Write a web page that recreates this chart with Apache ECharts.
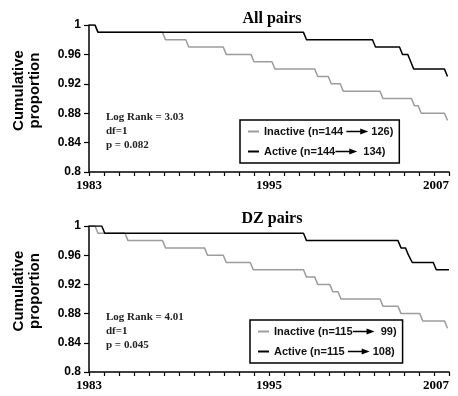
<!DOCTYPE html>
<html>
<head>
<meta charset="utf-8">
<script src="https://cdn.jsdelivr.net/npm/echarts@6/dist/echarts.min.js"></script>
<style>
html,body{margin:0;padding:0;background:#fff;}
#chart{width:458px;height:396px;}
</style>
</head>
<body>
<div id="chart"></div>
<script>
// ---------- data ----------
const xMin = 1983, xMax = 2007;
const xLabelYears = [1983, 1995, 2007];
const yMin = 0.8, yMax = 1, yStep = 0.04;
const panelTitles = ['All pairs', 'DZ pairs'];
const statsTexts = ['Log Rank = 3.03\ndf=1\np = 0.082', 'Log Rank = 4.01\ndf=1\np = 0.045'];

// series names (legend text); the arrow is drawn where "→" appears
const allInactiveName = 'Inactive (n=144 → 126)';
const allActiveName   = 'Active (n=144→  134)';
const dzInactiveName  = 'Inactive (n=115→  99)';
const dzActiveName    = 'Active (n=115 → 108)';

// event times (years) and survival level after each event; start level is 1
const allInactiveTimes  = [1983.4, 1987.9, 1989.45, 1991.95, 1993.8, 1995.2, 1998.05, 1998.95, 1999.75, 2002.4, 2004.5, 2004.95, 2006.7];
const allInactiveLevels = [0.99, 0.98, 0.97, 0.96, 0.95, 0.94, 0.93, 0.92, 0.91, 0.90, 0.89, 0.88, 0.87];
const allActiveTimes    = [1983.4, 1997.3, 2001.9, 2003.7, 2004.25, 2004.45, 2006.7];
const allActiveLevels   = [0.99, 0.98, 0.97, 0.96, 0.95, 0.94, 0.93];

const dzInactiveTimes  = [1983.4, 1985.4, 1987.9, 1990.7, 1991.95, 1993.75, 1997.3, 1998.05, 1999.05, 1999.6, 2002.4, 2003.6, 2005.05, 2006.7];
const dzInactiveLevels = [0.99, 0.98, 0.97, 0.96, 0.95, 0.94, 0.93, 0.92, 0.91, 0.90, 0.89, 0.88, 0.87, 0.86];
const dzActiveTimes    = [1983.85, 1997.3, 2003.6, 2004.1, 2004.35, 2005.95];
const dzActiveLevels   = [0.99, 0.98, 0.97, 0.96, 0.95, 0.94];

// ---------- build ----------
const SLANT = 0.2;
function stepPoints(times, levels) {
  const pts = [[xMin, 1]];
  let cur = 1;
  for (let i = 0; i < times.length; i++) {
    pts.push([times[i], cur]);
    cur = levels[i];
    pts.push([Math.min(times[i] + SLANT, xMax), cur]);
  }
  pts.push([xMax, cur]);
  return pts;
}

const SANS = '"Liberation Sans", Arial, Helvetica, sans-serif';
const SERIF = '"Liberation Serif", "Times New Roman", serif';
const GRAY = '#9c9c9c';
const BLACK = '#000';

const arrowSvg = '<svg xmlns="http://www.w3.org/2000/svg" width="22" height="8" viewBox="0 0 22 8">' +
  '<line x1="0" y1="4" x2="16" y2="4" stroke="#000" stroke-width="1.4"/>' +
  '<polygon points="14,1 22,4 14,7" fill="#000"/></svg>';
const arrowURI = 'data:image/svg+xml;charset=utf-8,' + encodeURIComponent(arrowSvg);

const grids = [
  {left: 89, right: 9, top: 25, height: 147},
  {left: 89, right: 9, top: 226, height: 146}
];

function xAxis(gi) {
  return {
    type: 'value', gridIndex: gi, min: xMin, max: xMax, interval: 1,
    axisLine: {show: true, lineStyle: {color: '#000', width: 1.5}},
    axisTick: {show: true, inside: false, length: 4, lineStyle: {color: '#000', width: 1.2}},
    splitLine: {show: false},
    axisLabel: {
      margin: 7, color: '#000', fontFamily: SERIF, fontWeight: 'bold', fontSize: 13,
      showMinLabel: true, showMaxLabel: true, alignMaxLabel: 'right',
      formatter: v => xLabelYears.indexOf(Math.round(v)) >= 0 && Math.abs(v - Math.round(v)) < 1e-6 ? String(Math.round(v)) : ''
    }
  };
}
function yAxis(gi) {
  return {
    type: 'value', gridIndex: gi, min: yMin, max: yMax, interval: yStep,
    name: 'Cumulative\nproportion', nameLocation: 'middle', nameGap: 46, nameRotate: 90,
    nameTextStyle: {fontFamily: SANS, fontWeight: 'bold', fontSize: 15, color: '#000', lineHeight: 16, padding: [0, 0, 0, 16]},
    axisLine: {show: true, lineStyle: {color: '#000', width: 1.5}},
    axisTick: {show: true, inside: false, length: 5, lineStyle: {color: '#000', width: 1.2}},
    splitLine: {show: false},
    axisLabel: {
      margin: 8, color: '#000', fontFamily: SANS, fontWeight: 'bold', fontSize: 12,
      formatter: v => String(parseFloat(v.toFixed(2)))
    }
  };
}
function line(name, gi, times, levels, color) {
  return {
    type: 'line', name: name, xAxisIndex: gi, yAxisIndex: gi,
    data: stepPoints(times, levels), showSymbol: false, symbol: 'none',
    lineStyle: {color: color, width: 1.5}, itemStyle: {color: color},
    animation: false, silent: true, clip: true
  };
}
function legend(names, left, top) {
  return {
    orient: 'vertical', left: left, top: top, data: names,
    icon: 'rect', itemWidth: 11, itemHeight: 2, itemGap: 5,
    padding: [4, 6, 4, 8], borderColor: '#000', borderWidth: 1.5, borderRadius: 0,
    backgroundColor: '#fff', selectedMode: false,
    textStyle: {
      fontFamily: SANS, fontWeight: 'bold', fontSize: 11, color: '#111', lineHeight: 15,
      rich: {arr: {width: 22, height: 8, backgroundColor: {image: arrowURI}}}
    },
    formatter: n => n.replace('→', '{arr|}')
  };
}

const option = {
  backgroundColor: '#fff',
  animation: false,
  title: panelTitles.map((t, i) => ({
    text: t, left: 272, top: i === 0 ? 11 : 211, textAlign: 'center', padding: 0,
    textStyle: {fontFamily: SERIF, fontWeight: 'bold', fontSize: 16, color: '#000'}
  })),
  grid: grids,
  xAxis: [xAxis(0), xAxis(1)],
  yAxis: [yAxis(0), yAxis(1)],
  legend: [
    legend([allInactiveName, allActiveName], 240, 120),
    legend([dzInactiveName, dzActiveName], 250, 320)
  ],
  series: [
    line(allInactiveName, 0, allInactiveTimes, allInactiveLevels, GRAY),
    line(allActiveName, 0, allActiveTimes, allActiveLevels, BLACK),
    line(dzInactiveName, 1, dzInactiveTimes, dzInactiveLevels, GRAY),
    line(dzActiveName, 1, dzActiveTimes, dzActiveLevels, BLACK)
  ],
  graphic: statsTexts.map((t, i) => ({
    type: 'text', left: 106, top: i === 0 ? 110 : 310,
    style: {text: t, font: 'bold 11px ' + SERIF, lineHeight: 14, fill: '#222'}
  }))
};

const chart = echarts.init(document.getElementById('chart'), null, {renderer: 'canvas'});
chart.setOption(option);
</script>
</body>
</html>
